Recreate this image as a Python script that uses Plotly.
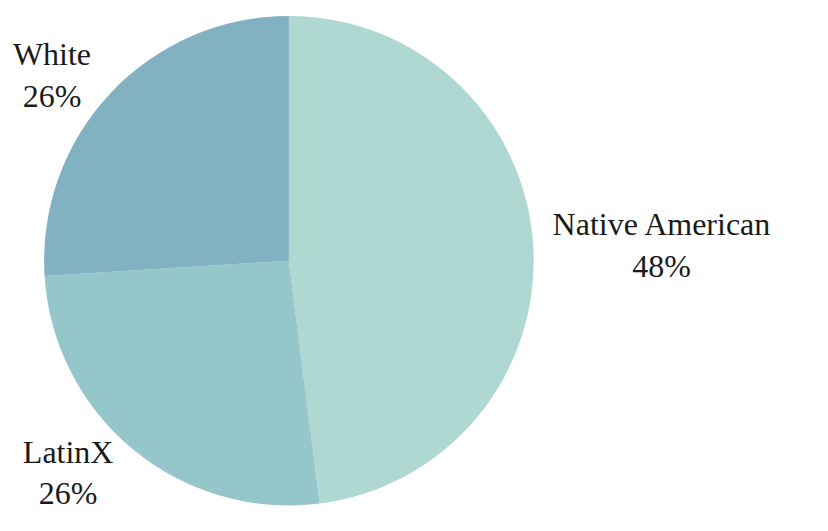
import plotly.graph_objects as go

labels = ["Native American", "LatinX", "White"]
values = [48, 26, 26]
colors = ["#afd8d3", "#95c6c9", "#82b2c2"]

W, H = 828, 531
dom = dict(x=[22.5 / W, 520.5 / W], y=[33 / H, 1.0])
fig = go.Figure(go.Pie(
    labels=labels,
    values=values,
    sort=False,
    direction="clockwise",
    rotation=0,
    marker=dict(colors=colors, line=dict(width=0)),
    texttemplate="%{label}<br>%{percent:.0%}",
    textposition="outside",
    textfont=dict(family="Liberation Serif", size=32, color="#1a1a1a"),
    showlegend=False,
    hoverinfo="label+percent",
    domain=dom,
))
fig.update_layout(
    width=W, height=H,
    margin=dict(l=0, r=0, t=0, b=0),
    paper_bgcolor="white",
    plot_bgcolor="white",
)
fig.write_html("out.html")
